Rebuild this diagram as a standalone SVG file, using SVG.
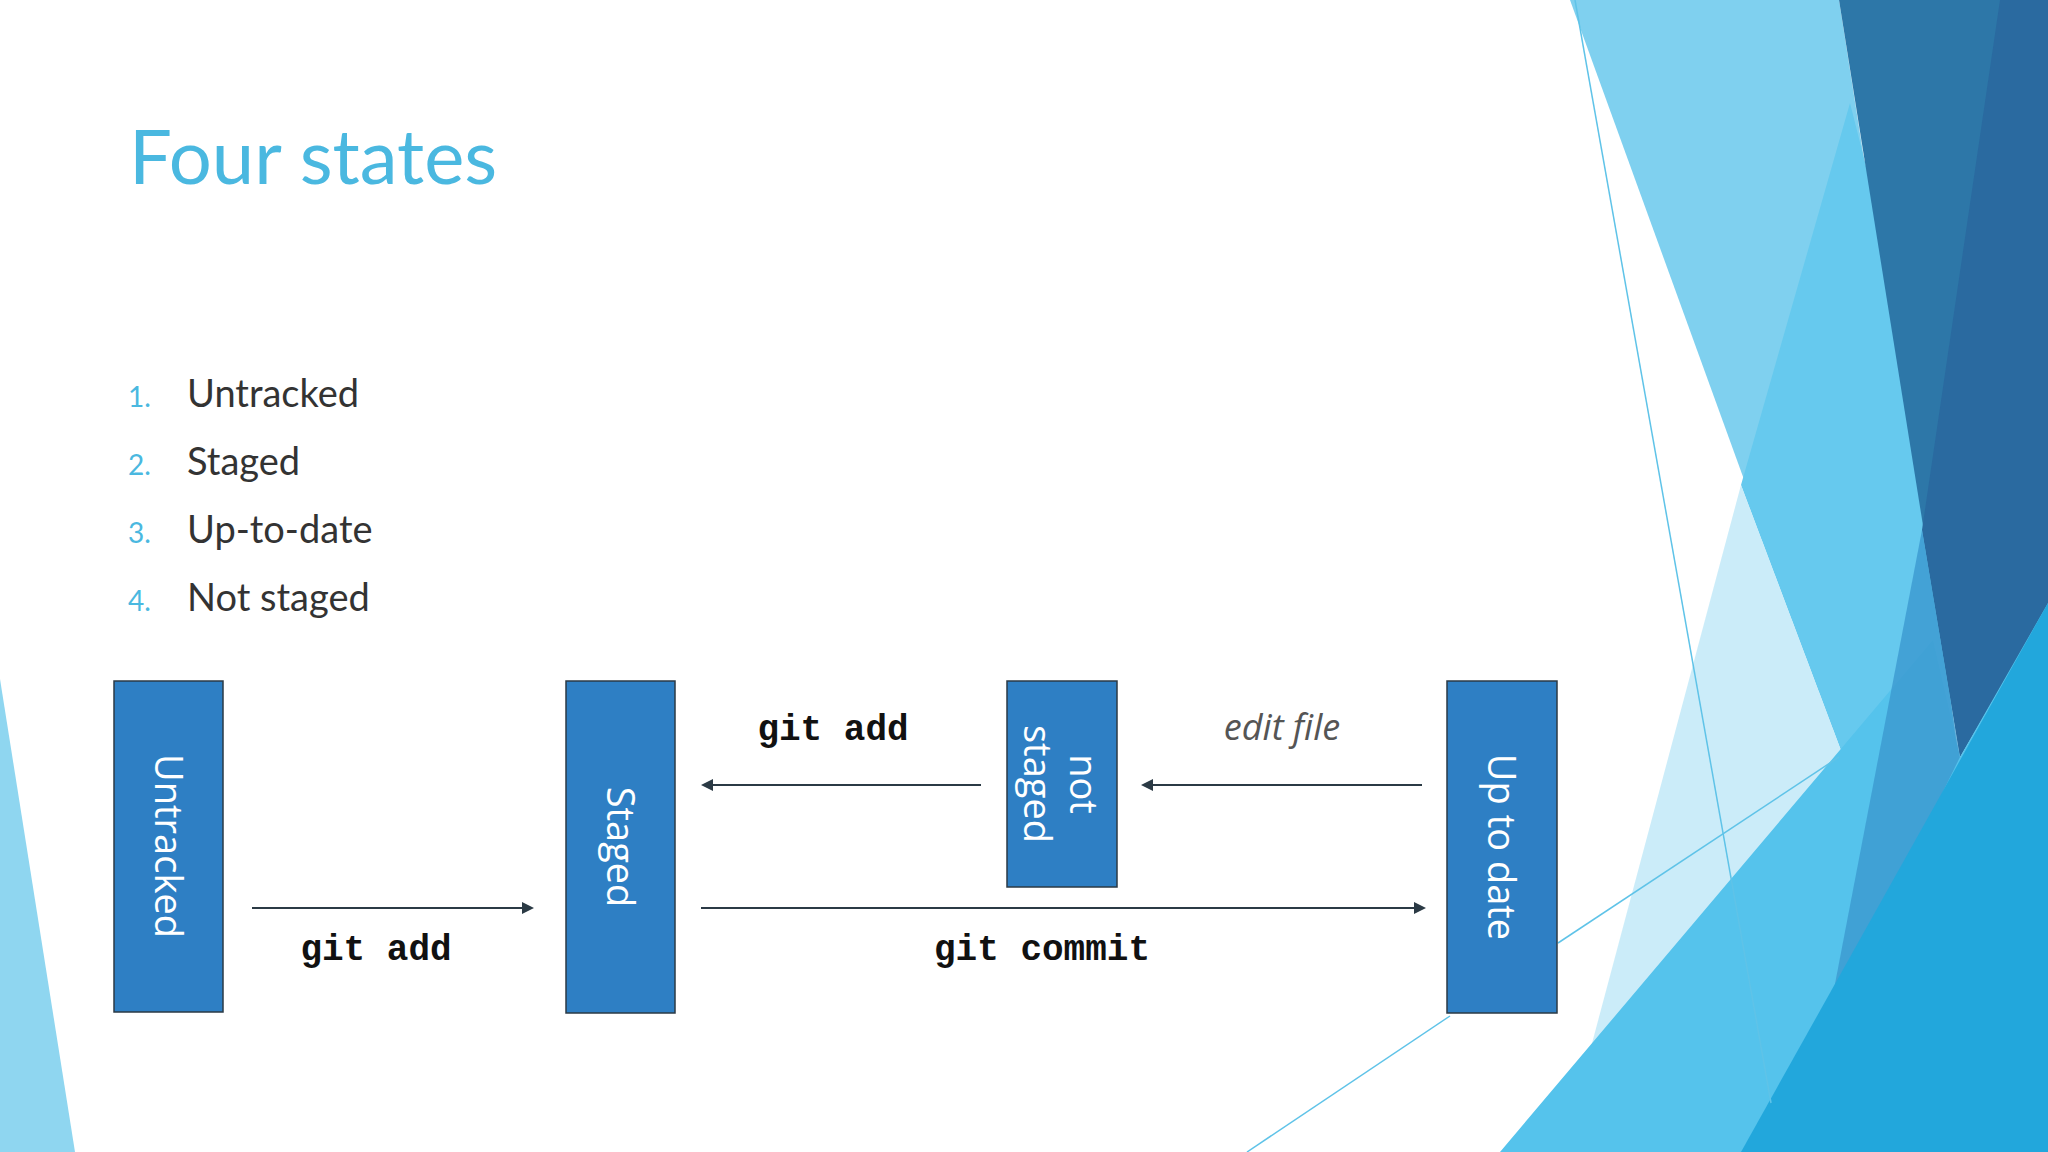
<svg xmlns="http://www.w3.org/2000/svg" width="2048" height="1152" viewBox="0 0 2048 1152">
<defs>
<style>
.box{fill:#2e7fc4;stroke:#2b3a45;stroke-width:1.5}
.bt{font-family:"Open Sans","DejaVu Sans",sans-serif;font-size:38px;fill:#fff}
.cmd{font-family:"Liberation Mono","DejaVu Sans Mono",monospace;font-weight:bold;font-size:36px;fill:#111}
.li{font-family:"Lato","Open Sans",sans-serif;font-size:38px;fill:#333}
.num{font-family:"Lato","Open Sans",sans-serif;font-size:28px;fill:#4ab8e0}
.ln{stroke:#2b3a45;stroke-width:2;fill:none;marker-end:url(#ah)}
</style>
<marker id="ah" markerWidth="12" markerHeight="12" refX="10" refY="6" orient="auto" markerUnits="userSpaceOnUse" viewBox="0 0 12 12"><path d="M0,0 L12,6 L0,12 z" fill="#2b3a45"/></marker>
</defs>
<rect width="2048" height="1152" fill="#fff"/>
<g id="decor">
<polygon points="0,679 75,1152 0,1152" fill="#8fd6f0"/>
<polygon points="1570,0 1839,0 1958,757 1877,846" fill="#7fd0ef"/>
<polygon points="1850,103 1900,300 1958,757 1877,846 1741,485" fill="#66c9ee"/>
<polygon points="1741,485 1877,846 1760,1152 1563,1152" fill="#c5eaf8" opacity="0.9"/>
<polygon points="1839,0 2048,0 2048,605 1960,757" fill="#2d77a8"/>
<polygon points="2000,0 2048,0 2048,605 1960,757 1922,530" fill="#2a6aa0"/>
<polygon points="1500,1152 1933,640 1960,757 2048,603 2048,1152" fill="#55c3ec"/>
<polygon points="1922,530 1960,757 1870,940 1830,1010" fill="#3b98d0" opacity="0.8"/>
<polygon points="1741,1152 2048,603 2048,1152" fill="#22a7dc"/>
<line x1="1575" y1="0" x2="1771" y2="1103" stroke="#5fc3e8" stroke-width="1.5"/>
<line x1="1558" y1="943" x2="1839" y2="757" stroke="#5fc3e8" stroke-width="1.5"/>
<line x1="1247" y1="1152" x2="1450" y2="1016" stroke="#5fc3e8" stroke-width="1.5"/>
</g>
<text x="129" y="184" font-family="Lato,'Open Sans',sans-serif" font-size="76" fill="#4ab8e0">Four states</text>
<g id="list">
<text class="num" x="128" y="407">1.</text><text class="li" x="187" y="407">Untracked</text>
<text class="num" x="128" y="475">2.</text><text class="li" x="187" y="475">Staged</text>
<text class="num" x="128" y="543">3.</text><text class="li" x="187" y="543">Up-to-date</text>
<text class="num" x="128" y="611">4.</text><text class="li" x="187" y="611">Not staged</text>
</g>
<g id="untracked"><rect class="box" x="114" y="681" width="109" height="331"/>
<text class="bt" transform="translate(155,846) rotate(90)" text-anchor="middle">Untracked</text></g>
<g id="staged"><rect class="box" x="566" y="681" width="109" height="332"/>
<text class="bt" transform="translate(607,847) rotate(90)" text-anchor="middle">Staged</text></g>
<g id="notstaged"><rect class="box" x="1007" y="681" width="110" height="206"/>
<text class="bt" transform="translate(1070,784) rotate(90)" text-anchor="middle">not</text>
<text class="bt" transform="translate(1024,784) rotate(90)" text-anchor="middle">staged</text></g>
<g id="uptodate"><rect class="box" x="1447" y="681" width="110" height="332"/>
<text class="bt" transform="translate(1488,847) rotate(90)" text-anchor="middle">Up to date</text></g>
<g id="connectors">
<line class="ln" x1="252" y1="908" x2="532" y2="908"/>
<line class="ln" x1="701" y1="908" x2="1424" y2="908"/>
<line class="ln" x1="981" y1="785" x2="703" y2="785"/>
<line class="ln" x1="1422" y1="785" x2="1143" y2="785"/>
<text class="cmd" x="376" y="960" text-anchor="middle">git add</text>
<text class="cmd" x="1042" y="960" text-anchor="middle">git commit</text>
<text class="cmd" x="833" y="740" text-anchor="middle">git add</text>
<text x="1282" y="740" text-anchor="middle" font-family="'Open Sans',sans-serif" font-style="italic" font-size="36" fill="#555">edit file</text>
</g>
</svg>
